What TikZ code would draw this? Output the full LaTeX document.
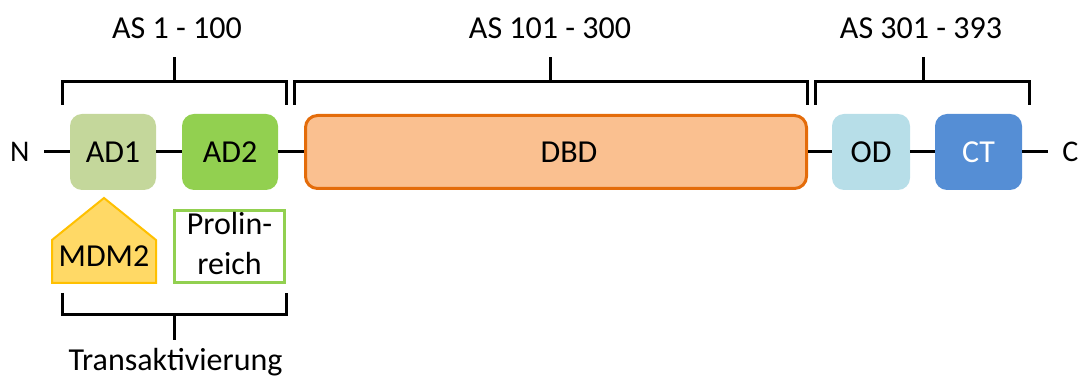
\documentclass[tikz,border=0pt]{standalone}
\usepackage{fontspec}
\setmainfont{Carlito}
\definecolor{adone}{HTML}{C4D79B}
\definecolor{adtwo}{HTML}{92D050}
\definecolor{dbdfill}{HTML}{FAC090}
\definecolor{dbdline}{HTML}{E46C0A}
\definecolor{odfill}{HTML}{B7DEE8}
\definecolor{ctfill}{HTML}{558ED5}
\definecolor{mdmfill}{HTML}{FFD966}
\definecolor{mdmline}{HTML}{FFC000}
\begin{document}
\begin{tikzpicture}[x=0.5pt,y=-0.5pt,
  every node/.style={font=\fontsize{16}{20}\selectfont},
  protbox/.style={rectangle,rounded corners=6pt,inner sep=0pt,minimum height=38pt},
  termlabel/.style={inner sep=7pt,font=\fontsize{15}{18}\selectfont},
  backbone/.style={line width=1.5pt},
  bracket/.style={line width=1.5pt,line join=miter}]
\useasboundingbox (0,0) rectangle (1080,378);
% domains
\node[protbox,fill=adone,minimum width=43pt] (AD1) at (113,152) {AD1};
\node[protbox,fill=adtwo,minimum width=48pt] (AD2) at (230,152) {AD2};
\node[protbox,fill=dbdfill,draw=dbdline,line width=1.5pt,minimum width=250.5pt,minimum height=36.5pt] (DBD) at (556,152) {};
\node[inner sep=0pt] (dbdtext) at ([xshift=6.5pt]DBD.center) {DBD};
\node[protbox,fill=odfill,minimum width=39pt] (OD) at (871,152) {OD};
\node[protbox,fill=ctfill,text=white,minimum width=43.5pt] (CT) at (978.5,152) {CT};
\node[termlabel,anchor=east] (N) at (44,152) {N};
\node[termlabel,anchor=west] (C) at (1048,152) {C};
% backbone
\draw[backbone] (N) -- (AD1);
\draw[backbone] (AD1) -- (AD2);
\draw[backbone] (AD2) -- (DBD);
\draw[backbone] (DBD) -- (OD);
\draw[backbone] (OD) -- (CT);
\draw[backbone] (CT) -- (C);
% top brackets
\draw[bracket] (62,105) -- (62,82) -- (286,82) -- (286,105);
\draw[bracket] (174,82) -- (174,57);
\draw[bracket] (294,105) -- (294,82) -- (807,82) -- (807,105);
\draw[bracket] (550,82) -- (550,57);
\draw[bracket] (815,105) -- (815,82) -- (1029,82) -- (1029,105);
\draw[bracket] (923,82) -- (923,57);
\node[anchor=base,inner sep=0pt] (as1) at (177,39) {AS 1 - 100};
\node[anchor=base,inner sep=0pt] (as2) at (550,39) {AS 101 - 300};
\node[anchor=base,inner sep=0pt] (as3) at (921,39) {AS 301 - 393};
% MDM2
\draw[fill=mdmfill,draw=mdmline,line width=1pt,line join=miter]
  (52,283) -- (52,240) -- (104,198) -- (156,240) -- (156,283) -- cycle;
\node[inner sep=0pt,anchor=base] (mdm) at (104,267) {MDM2};
% Prolinreich
\node[rectangle,draw=adtwo,fill=white,line width=1.5pt,minimum width=55pt,minimum height=36pt,inner sep=0pt] (pro) at (229.5,246.5) {};
\node[inner sep=0pt,anchor=base] (pro1) at (229.5,235) {Prolin-};
\node[inner sep=0pt,anchor=base] (pro2) at (229.5,275) {reich};
% bottom bracket
\draw[bracket] (62,293) -- (62,315) -- (286,315) -- (286,293);
\draw[bracket] (174,315) -- (174,340);
\node[anchor=base,inner sep=0pt] (ta) at (175.5,371) {Transaktivierung};
\end{tikzpicture}
\end{document}
